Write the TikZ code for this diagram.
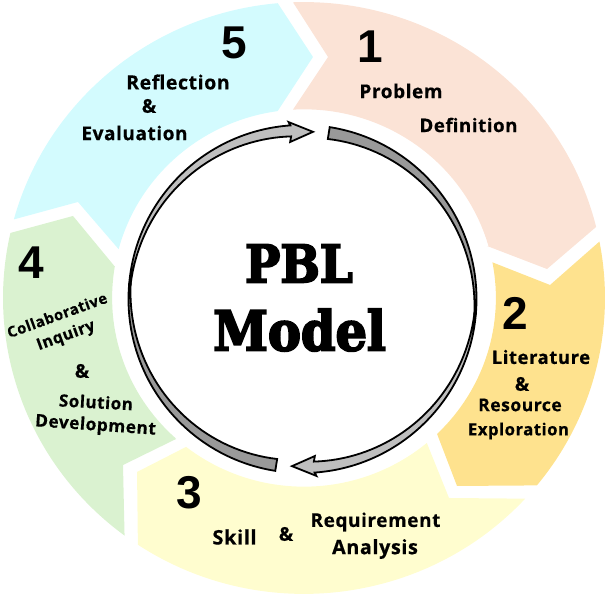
\documentclass[tikz,border=0pt]{standalone}
\usepackage{fontspec}
\setmainfont[LetterSpace=3,BoldFeatures={FakeBold=0.5}]{Open Sans}
\newfontfamily\numfont{Liberation Sans}
\newfontfamily\pblfont[BoldFeatures={FakeBold=3.5}]{DejaVu Serif Condensed}
\definecolor{segone}{HTML}{FBE3D6}
\definecolor{segtwo}{HTML}{FEE28E}
\definecolor{segthree}{HTML}{FFFDCF}
\definecolor{segfour}{HTML}{DAF2D0}
\definecolor{segfive}{HTML}{D3FBFE}
\begin{document}
\begin{tikzpicture}[x=1pt,y=1pt,line join=miter,
		lab/.style={inner sep=0pt,font=\fontsize{#1}{#1}\selectfont\bfseries},
		lab/.default=19,
		num/.style={inner sep=0pt,font=\fontsize{46}{46}\selectfont\numfont\bfseries},
		pbl/.style={inner sep=0pt,font=\fontsize{#1}{#1}\selectfont\pblfont\bfseries}]
	\useasboundingbox (-304,-298) rectangle (302,298);
	\begin{scope}[xscale=1.01,yscale=.993]
		\fill[segone] (92.1:298) arc[start angle=92.1,end angle=13.9,radius=298pt] -- (240.6,29.2) -- (181.2,52.4) -- (15.9:190) arc[start angle=15.9,end angle=93.3,radius=190pt] -- (23.8,242.7) -- cycle;
		\fill[segtwo] (10.9:190) -- (243.6,13.1) -- (11:298) arc[start angle=11,end angle=-39.3,radius=298pt] -- (151.5,-189.3) -- (-46.1:190) arc[start angle=-46.1,end angle=10.9,radius=190pt] -- cycle;
		\fill[segthree] (-50.2:190) -- (143.6,-201.4) -- (-42.7:298) arc[start angle=-42.7,end angle=-123.5,radius=298pt] -- (-165.3,-175.2) -- (-127.9:190) arc[start angle=-127.9,end angle=-50.2,radius=190pt] -- cycle;
		\fill[segfour] (-126.7,-142) -- (-179.2,-168.2) -- (233.4:298) arc[start angle=233.4,end angle=167.3,radius=298pt] -- (-228.7,82.6) -- (170.4:190) arc[start angle=170.4,end angle=227.8,radius=190pt] -- cycle;
		\fill[segfive] (164.6:298) arc[start angle=164.6,end angle=95,radius=298pt] -- (8.9,242.7) -- (97.9:190) arc[start angle=97.9,end angle=165,radius=190pt] -- (-223.8,96.7) -- cycle;
	\end{scope}
	\begin{scope}[shift={(-1.5,-1)}]
		\foreach \rot in {0,180}{
			\begin{scope}[rotate=\rot,draw=black,line width=1.8pt]
				\filldraw[fill=black!40] (81:174) arc[start angle=81,end angle=-5,radius=174pt] -- plot[domain=-5:81,samples=40] (\x:{172.5-(\x+5)*10.5/86}) -- cycle;
				\filldraw[fill=black!25] (-5:174) arc[start angle=-5,end angle=-86,radius=174pt] -- (-85.5:177.5) -- (-93.6:167.5) -- (-85.5:157.5) -- (-86:163) -- plot[domain=-86:-5,samples=40] (\x:{172.5+(\x+5)*9.5/81}) -- cycle;
			\end{scope}
		}
	\end{scope}
	\node[pbl=52] (pbl) at (-5,34.5) {PBL};
	\node[pbl=55] (model) at (-4.5,-32) {Model};
	\node[num] (n1) at (66,251) {1};
	\node[num] (n2) at (211,-15) {2};
	\node[num] (n3) at (-115,-195) {3};
	\node[num] (n4) at (-273,35) {4};
	\node[num] (n5) at (-70,255) {5};
	\node[lab] (problem) at (97,207) {Problem};
	\node[lab=18.7] (definition) at (164.5,173) {Definition};
	\node[lab=18.5] (literature) at (237,-59) {Literature};
	\node[lab] (and2) at (218,-86) {\&};
	\node[lab=17.5] (resource) at (216,-107) {Resource};
	\node[lab=16.7] (exploration) at (214.5,-133) {Exploration};
	\node[lab=20] (skill) at (-69.5,-239) {Skill};
	\node[lab] (and3) at (-18,-236) {\&};
	\node[lab] (requirement) at (71.5,-224) {Requirement};
	\node[lab=19.8] (analysis) at (71,-251) {Analysis};
	\node[lab=15,rotate=20] (collab) at (-247,-17) {Collaborative};
	\node[lab=16,rotate=20] (inquiry) at (-238,-38) {Inquiry};
	\node[lab] (and4) at (-222,-73) {\&};
	\node[lab=17,rotate=-3] (solution) at (-208,-104) {Solution};
	\node[lab=17.3,rotate=-4] (develop) at (-208.5,-128) {Development};
	\node[lab=19.5] (reflection) at (-126,216) {Reflection};
	\node[lab] (and5) at (-155,192) {\&};
	\node[lab] (evaluation) at (-169.5,165) {Evaluation};
\end{tikzpicture}
\end{document}
